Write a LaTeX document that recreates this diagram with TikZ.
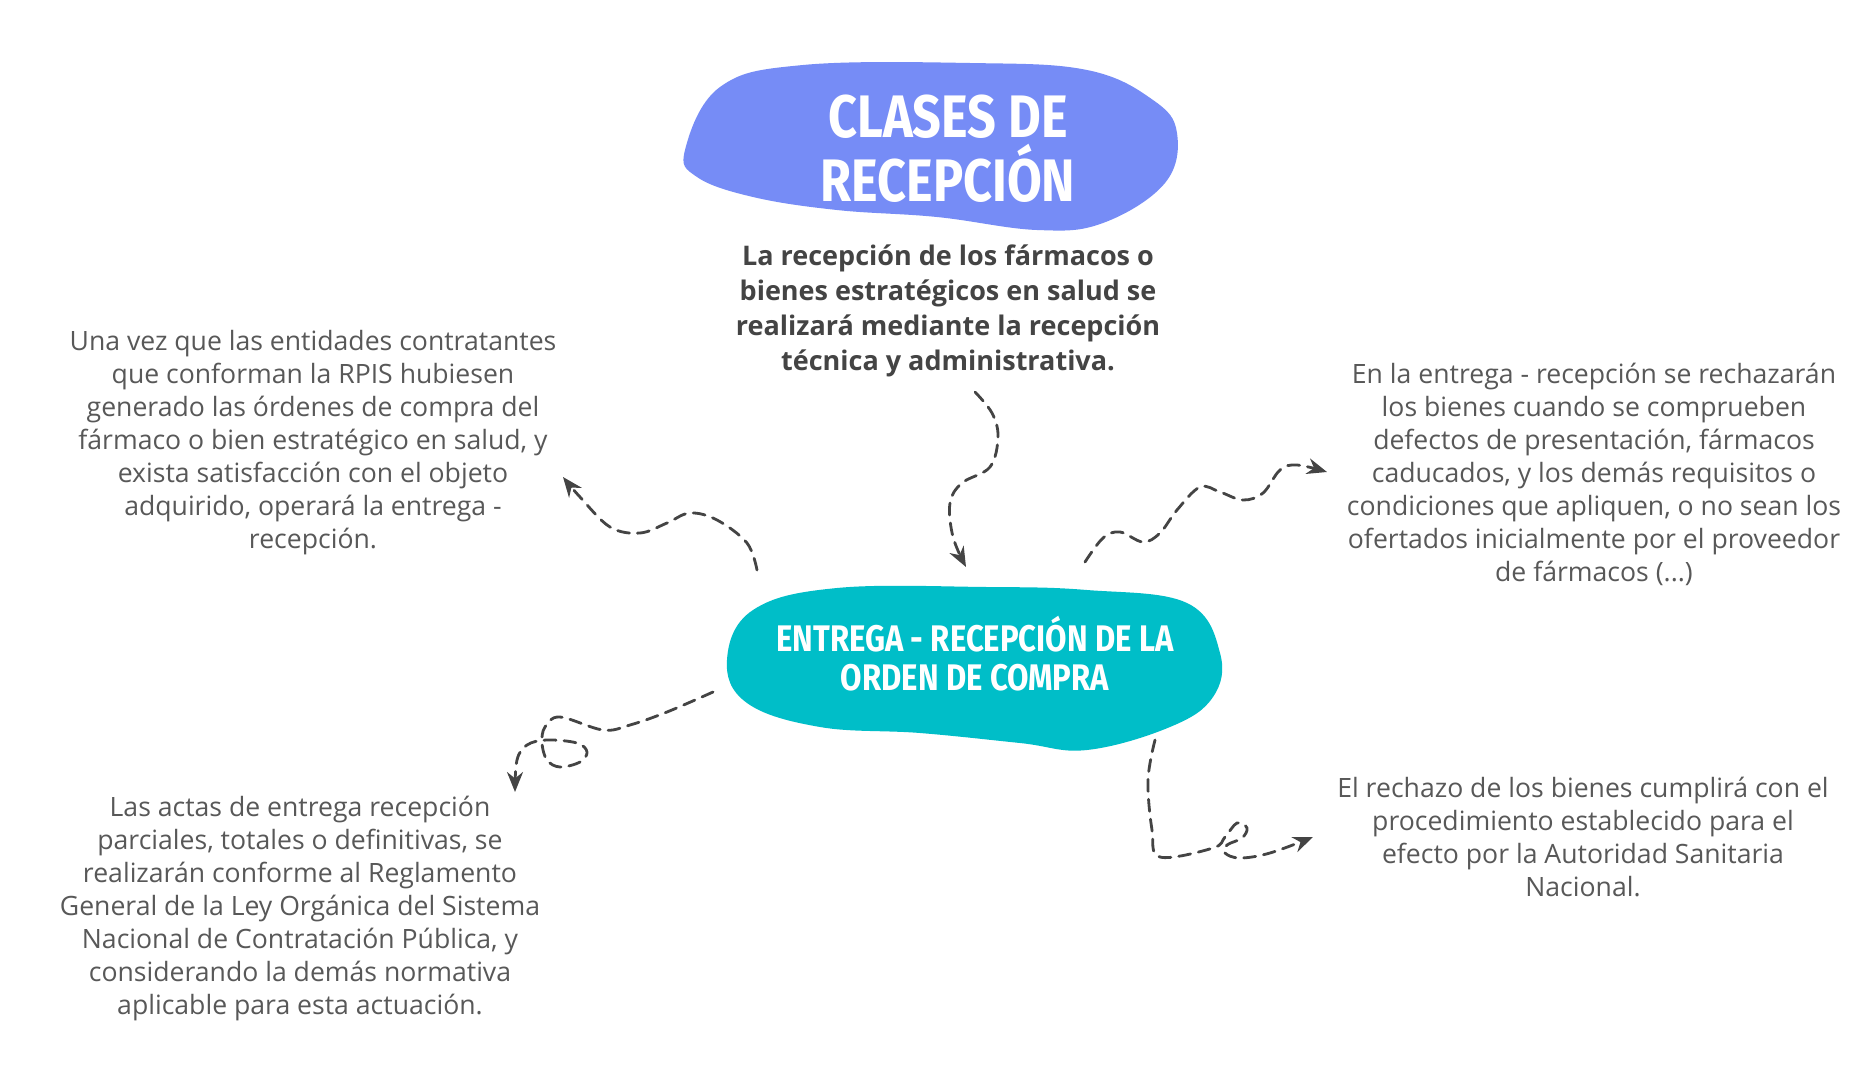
\documentclass[tikz,border=0pt]{standalone}
\usepackage{fontspec}
\setmainfont{Open Sans}
\newfontfamily\titlefont[FakeStretch=0.84]{Fira Sans}
\usetikzlibrary{arrows.meta}
\definecolor{blobblue}{RGB}{118,140,246}
\definecolor{blobteal}{RGB}{0,190,200}
\definecolor{txtgray}{RGB}{88,88,88}
\definecolor{leadgray}{RGB}{68,68,68}
\definecolor{arrowgray}{RGB}{68,68,68}
\begin{document}
\begin{tikzpicture}[x=0.5pt,y=-0.5pt,
  body/.style={font=\fontsize{13.3}{16.5}\selectfont, text=txtgray, align=center, inner sep=0pt},
  leadtext/.style={font=\bfseries\fontsize{13.5}{17.5}\selectfont, text=leadgray, align=center, inner sep=0pt},
  blobtext/.style={font=\titlefont\bfseries\fontsize{30}{32}\selectfont, text=white, align=center, inner sep=0pt},
  blobtextsmall/.style={font=\titlefont\bfseries\fontsize{18.5}{19.5}\selectfont, text=white, align=center, inner sep=0pt},
  conn/.style={draw=arrowgray, line width=1.4pt, dash pattern=on 6pt off 4pt, line cap=round, -{Stealth[length=10pt,width=8pt]}}]
\useasboundingbox (0,0) rectangle (1875,1071);
\fill[white] (0,0) rectangle (1875,1071);

% title blob
\fill[blobblue] plot[smooth cycle, tension=0.65] coordinates {
  (685,150) (720,87) (803,65) (970,63) (1087,70) (1153,100) (1177,133)
  (1165,183) (1103,223) (1037,230) (937,217) (837,210) (753,197) (697,177)};
\node[blobtext] (title) at (948,149) {CLASES DE\\RECEPCIÓN};

% center blob
\fill[blobteal] plot[smooth cycle, tension=0.65] coordinates {
  (727,660) (753,610) (837,588) (987,587) (1087,590) (1187,603) (1220,653)
  (1213,697) (1170,727) (1087,750) (1020,743) (920,733) (820,727) (747,703)};
\node[blobtextsmall] (center) at (975,654) {ENTREGA - RECEPCIÓN DE LA\\ORDEN DE COMPRA};

% texts
\node[leadtext] (lead) at (948,311) {La recepción de los fármacos o\\bienes estratégicos en salud se\\realizará mediante la recepción\\técnica y administrativa.};
\node[body] (left) at (313,443) {Una vez que las entidades contratantes\\que conforman la RPIS hubiesen\\generado las órdenes de compra del\\fármaco o bien estratégico en salud, y\\exista satisfacción con el objeto\\adquirido, operará la entrega -\\recepción.};
\node[body] (right) at (1594,474) {En la entrega - recepción se rechazarán\\los bienes cuando se comprueben\\defectos de presentación, fármacos\\caducados, y los demás requisitos o\\condiciones que apliquen, o no sean los\\ofertados inicialmente por el proveedor\\de fármacos (...)};
\node[body] (botleft) at (300,908) {Las actas de entrega recepción\\parciales, totales o definitivas, se\\realizarán conforme al Reglamento\\General de la Ley Orgánica del Sistema\\Nacional de Contratación Pública, y\\considerando la demás normativa\\aplicable para esta actuación.};
\node[body] (botright) at (1583,837) {El rechazo de los bienes cumplirá con el\\procedimiento establecido para el\\efecto por la Autoridad Sanitaria\\Nacional.};

% connector end points
\coordinate (a1s) at (975,392);  \coordinate (a1e) at (966,567);
\coordinate (a2s) at (757,570);  \coordinate (a2e) at (563,477);
\coordinate (a3s) at (1085,562); \coordinate (a3e) at (1327,472);
\coordinate (a4s) at (713,692);  \coordinate (a4e) at (515,792);
\coordinate (a5s) at (1155,740); \coordinate (a5e) at (1313,837);

\draw[conn] plot[smooth, tension=0.6] coordinates {(a1s) (992,413) (998,437) (990,467) (962,483) (950,503) (953,537) (a1e)};
\draw[conn] plot[smooth, tension=0.6] coordinates {(a2s) (747,543) (717,520) (690,513) (667,523) (640,533) (610,527) (580,497) (a2e)};
\draw[conn] plot[smooth, tension=0.6] coordinates {(a3s) (1103,538) (1120,532) (1143,542) (1160,533) (1177,510) (1200,487) (1220,492) (1243,500) (1263,493) (1280,470) (1297,465) (a3e)};
\draw[conn] plot[smooth, tension=0.6] coordinates {(a4s) (667,712) (630,725) (603,730) (560,717) (545,727) (542,743) (547,760) (560,767) (580,762) (587,752) (577,743) (547,740) (527,745) (517,760) (a4e)};
\draw[conn] plot[smooth, tension=0.6] coordinates {(a5s) (1148,780) (1152,830) (1160,857) (1213,848) (1225,837) (1237,823) (1247,828) (1242,838) (1227,845) (1225,853) (1240,858) (1270,853) (a5e)};
\end{tikzpicture}
\end{document}
